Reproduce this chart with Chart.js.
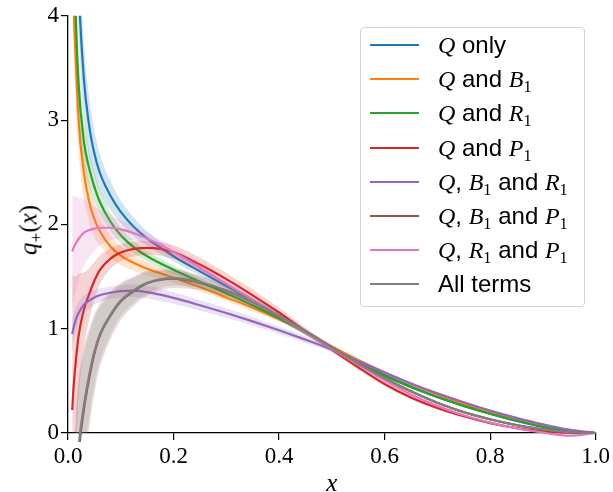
<!DOCTYPE html>
<html><head><meta charset="utf-8">
<script src="https://cdn.jsdelivr.net/npm/chart.js@4.4.1/dist/chart.umd.min.js"></script>
<style>
html,body{margin:0;padding:0;background:#fff;}
#wrap{position:relative;width:613px;height:492px;}
#legend{position:absolute;left:360px;top:27px;width:223px;height:278px;border:1px solid #d3d3d3;border-radius:4px;background:rgba(255,255,255,0.8);font-family:"Liberation Sans",Arial,sans-serif;font-size:24px;color:#000;}
.row{position:absolute;left:0;height:34px;display:flex;align-items:center;white-space:nowrap;}
.sw{width:49px;height:2px;margin-left:9px;margin-right:19px;flex:none;}
.m{font-family:"Liberation Serif",serif;font-style:italic;}
sub{font-family:"Liberation Serif",serif;font-style:normal;font-size:0.68em;vertical-align:-0.3em;line-height:0;}
#ytitle{position:absolute;left:28px;top:230px;transform:translate(-50%,-50%) rotate(-90deg);font-family:"Liberation Serif",serif;font-size:25px;color:#000;white-space:nowrap;line-height:1;}
#ytitle sub{font-size:0.7em;vertical-align:-0.28em;}
</style></head><body>
<div id="wrap"><canvas id="c" width="613" height="492"></canvas><div id="ytitle"></div><div id="legend"></div></div>
<script>
// ---- data ----
const xGrid = [0.008, 0.01, 0.015, 0.02, 0.03, 0.04, 0.05, 0.06, 0.08, 0.1, 0.125, 0.15, 0.2, 0.25, 0.3, 0.35, 0.4, 0.45, 0.5, 0.55, 0.6, 0.65, 0.7, 0.75, 0.8, 0.85, 0.9, 0.95, 1.0];

const seriesLabels = ["Q only", "Q and B₁", "Q and R₁", "Q and P₁", "Q, B₁ and R₁", "Q, B₁ and P₁", "Q, R₁ and P₁", "All terms"];
const yAxisTitle = "q₊(x)";
const xAxisTitle = "x";

const qOnly      = [7.6, 6.6, 5.2, 4.3, 3.4, 2.95, 2.68, 2.50, 2.28, 2.12, 1.975, 1.865, 1.695, 1.55, 1.41, 1.27, 1.12, 0.97, 0.82, 0.68, 0.555, 0.445, 0.345, 0.26, 0.185, 0.115, 0.058, 0.018, 0];
const qOnlyErr   = [0.8, 0.7, 0.55, 0.45, 0.35, 0.28, 0.22, 0.18, 0.14, 0.11, 0.09, 0.07, 0.05, 0.04, 0.03, 0.025, 0.02, 0.02, 0.015, 0.015, 0.015, 0.012, 0.01, 0.01, 0.008, 0.006, 0.004, 0.002, 0];

const qB1        = [5.2, 4.3, 3.55, 3.0, 2.50, 2.22, 2.05, 1.94, 1.79, 1.70, 1.63, 1.575, 1.49, 1.40, 1.30, 1.20, 1.09, 0.97, 0.83, 0.70, 0.58, 0.47, 0.37, 0.28, 0.20, 0.13, 0.065, 0.02, 0];
const qB1Err     = [0.5, 0.45, 0.38, 0.3, 0.25, 0.2, 0.17, 0.14, 0.11, 0.09, 0.075, 0.065, 0.05, 0.04, 0.035, 0.03, 0.025, 0.02, 0.015, 0.015, 0.015, 0.012, 0.01, 0.01, 0.008, 0.006, 0.004, 0.002, 0];

const qR1        = [5.6, 5.0, 3.95, 3.35, 2.80, 2.54, 2.36, 2.22, 2.03, 1.895, 1.78, 1.695, 1.565, 1.45, 1.34, 1.225, 1.10, 0.96, 0.815, 0.68, 0.55, 0.44, 0.345, 0.26, 0.185, 0.12, 0.06, 0.02, 0];
const qR1Err     = [0.6, 0.5, 0.4, 0.32, 0.24, 0.18, 0.14, 0.12, 0.09, 0.075, 0.06, 0.05, 0.04, 0.035, 0.03, 0.025, 0.02, 0.02, 0.015, 0.015, 0.015, 0.012, 0.01, 0.01, 0.008, 0.006, 0.004, 0.002, 0];

const qP1        = [0.22, 0.40, 0.70, 0.93, 1.18, 1.33, 1.46, 1.56, 1.67, 1.73, 1.765, 1.775, 1.735, 1.615, 1.475, 1.32, 1.155, 0.975, 0.80, 0.63, 0.47, 0.34, 0.24, 0.16, 0.095, 0.048, 0.017, 0.003, 0];
const qP1Err     = [1.3, 1.1, 0.8, 0.6, 0.36, 0.25, 0.18, 0.14, 0.1, 0.08, 0.07, 0.065, 0.065, 0.065, 0.06, 0.055, 0.045, 0.035, 0.025, 0.02, 0.02, 0.018, 0.015, 0.012, 0.01, 0.008, 0.005, 0.003, 0];

const qB1R1      = [0.95, 1.0, 1.09, 1.15, 1.23, 1.27, 1.30, 1.32, 1.345, 1.36, 1.365, 1.35, 1.295, 1.225, 1.15, 1.07, 0.985, 0.895, 0.80, 0.69, 0.58, 0.475, 0.38, 0.295, 0.215, 0.145, 0.083, 0.032, 0];
const qB1R1Err   = [0.15, 0.14, 0.12, 0.1, 0.09, 0.08, 0.07, 0.065, 0.06, 0.06, 0.06, 0.06, 0.055, 0.05, 0.045, 0.04, 0.035, 0.03, 0.02, 0.018, 0.016, 0.014, 0.012, 0.01, 0.008, 0.006, 0.004, 0.002, 0];

const qB1P1      = [-2.2, -1.6, -0.7, -0.22, 0.22, 0.52, 0.76, 0.93, 1.12, 1.26, 1.36, 1.435, 1.48, 1.44, 1.365, 1.255, 1.12, 0.975, 0.82, 0.665, 0.525, 0.40, 0.29, 0.20, 0.132, 0.076, 0.034, 0.009, 0];
const qB1P1Err   = [1.2, 1.05, 0.85, 0.72, 0.6, 0.48, 0.38, 0.31, 0.23, 0.18, 0.14, 0.12, 0.09, 0.07, 0.055, 0.045, 0.035, 0.025, 0.02, 0.018, 0.015, 0.012, 0.01, 0.008, 0.006, 0.005, 0.004, 0.002, 0];

const qR1P1      = [1.74, 1.77, 1.82, 1.86, 1.92, 1.945, 1.96, 1.968, 1.968, 1.952, 1.915, 1.865, 1.735, 1.585, 1.43, 1.275, 1.12, 0.965, 0.81, 0.655, 0.505, 0.37, 0.26, 0.17, 0.10, 0.045, 0.005, -0.025, 0];
const qR1P1Err   = [0.55, 0.5, 0.45, 0.4, 0.32, 0.26, 0.21, 0.17, 0.12, 0.09, 0.07, 0.055, 0.045, 0.035, 0.03, 0.025, 0.02, 0.02, 0.018, 0.018, 0.018, 0.016, 0.014, 0.012, 0.01, 0.01, 0.01, 0.01, 0];

const allTerms   = [-2.0, -1.4, -0.6, -0.15, 0.26, 0.55, 0.78, 0.94, 1.13, 1.27, 1.37, 1.44, 1.485, 1.445, 1.365, 1.255, 1.12, 0.975, 0.82, 0.665, 0.525, 0.40, 0.29, 0.20, 0.13, 0.075, 0.034, 0.009, 0];
const allTermsErr= [1.0, 0.9, 0.7, 0.6, 0.5, 0.4, 0.32, 0.26, 0.19, 0.15, 0.12, 0.1, 0.07, 0.055, 0.045, 0.035, 0.028, 0.02, 0.015, 0.015, 0.012, 0.01, 0.01, 0.008, 0.006, 0.005, 0.004, 0.002, 0];

const xTickLabels = ["0.0", "0.2", "0.4", "0.6", "0.8", "1.0"];
const yTickLabels = ["0", "1", "2", "3", "4"];

// ---- styling ----
const colors = ["#1f77b4", "#ff7f0e", "#2ca02c", "#d62728", "#9467bd", "#8c564b", "#e377c2", "#7f7f7f"];
const series = [
  [qOnly, qOnlyErr], [qB1, qB1Err], [qR1, qR1Err], [qP1, qP1Err],
  [qB1R1, qB1R1Err], [qB1P1, qB1P1Err], [qR1P1, qR1P1Err], [allTerms, allTermsErr]
];
function rgba(hex, a) {
  const n = parseInt(hex.slice(1), 16);
  return `rgba(${(n >> 16) & 255},${(n >> 8) & 255},${n & 255},${a})`;
}
const lineClip = {left: 0, top: 0, right: 0, bottom: 9};
const datasets = [];
let seq = 0;
series.forEach(([vals, err], k) => {
  const c = colors[k];
  datasets.push({
    label: seriesLabels[k] + " lower",
    data: xGrid.map((x, i) => ({x, y: vals[i] - err[i]})),
    borderWidth: 0, pointRadius: 0, fill: false, borderColor: 'rgba(0,0,0,0)',
    order: 100 - (seq++), clip: lineClip
  });
  datasets.push({
    label: seriesLabels[k] + " band",
    data: xGrid.map((x, i) => ({x, y: vals[i] + err[i]})),
    borderWidth: 0, pointRadius: 0, fill: '-1', borderColor: 'rgba(0,0,0,0)',
    backgroundColor: rgba(c, 0.2),
    order: 100 - (seq++), clip: lineClip
  });
  datasets.push({
    label: seriesLabels[k],
    data: xGrid.map((x, i) => ({x, y: vals[i]})),
    borderColor: c, borderWidth: 2.2, pointRadius: 0, fill: false,
    order: 100 - (seq++), clip: lineClip
  });
});

const tickFont = {family: "'Liberation Serif', serif", size: 23};

new Chart(document.getElementById('c'), {
  type: 'line',
  data: {datasets},
  options: {
    responsive: false,
    devicePixelRatio: 1,
    animation: false,
    events: [],
    elements: {line: {cubicInterpolationMode: 'monotone'}},
    layout: {padding: {left: 0, top: 14, right: 17, bottom: 0}},
    plugins: {legend: {display: false}, tooltip: {enabled: false}},
    scales: {
      x: {
        type: 'linear', min: 0, max: 1,
        ticks: {stepSize: 0.2, color: '#000', font: tickFont, padding: 3, maxRotation: 0,
                callback: (v, i) => xTickLabels[i]},
        grid: {drawOnChartArea: false, drawTicks: true, tickLength: 7, color: '#000', lineWidth: 1.2},
        border: {display: true, color: '#000', width: 1.3},
        title: {display: true, text: xAxisTitle, color: '#000',
                font: {family: "'Liberation Serif', serif", style: 'italic', size: 25, lineHeight: 0.64},
                padding: {top: 0, bottom: 0}},
        afterFit: s => { s.height = 59; }
      },
      y: {
        type: 'linear', min: 0, max: 4,
        ticks: {stepSize: 1, color: '#000', font: tickFont, padding: 2,
                callback: (v, i) => yTickLabels[i]},
        grid: {drawOnChartArea: false, drawTicks: true, tickLength: 7, color: '#000', lineWidth: 1.2},
        border: {display: true, color: '#000', width: 1.3},
        afterFit: s => { s.width = 68; }
      }
    }
  }
});

// ---- text with mixed math styling (HTML) ----
function fmt(label) {
  return label.replace(/([QBRP])(₁)?/g, (m, L, s) => `<span class="m">${L}</span>` + (s ? '<sub>1</sub>' : ''));
}
document.getElementById('ytitle').innerHTML =
  yAxisTitle.replace(/([a-z])/g, '<i>$1</i>').replace('₊', '<sub>+</sub>');
const legend = document.getElementById('legend');
seriesLabels.forEach((lab, k) => {
  const row = document.createElement('div');
  row.className = 'row';
  row.style.top = (k * 34.2) + 'px';
  row.innerHTML = `<span class="sw" style="background:${colors[k]}"></span><span>${fmt(lab)}</span>`;
  legend.appendChild(row);
});
</script>
</body></html>
